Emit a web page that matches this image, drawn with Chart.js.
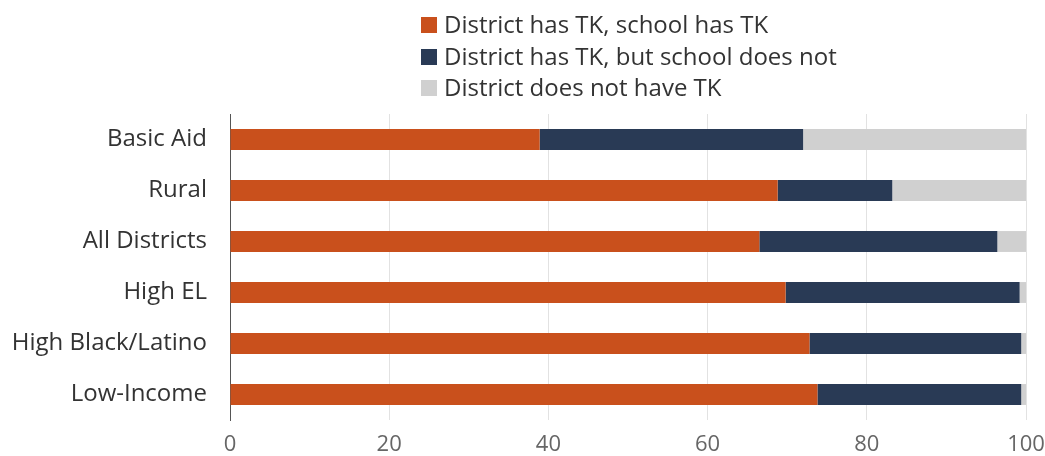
<!DOCTYPE html>
<html>
<head>
<meta charset="utf-8">
<script src="https://cdn.jsdelivr.net/npm/chart.js@4"></script>
<style>
  html, body { margin: 0; padding: 0; background: #fff; }
  #wrap { position: relative; width: 1045px; height: 456px; }
  #legend { position: absolute; left: 421px; top: 8px; font-family: "Open Sans", sans-serif; font-size: 24px; color: #333; }
  #legend div { height: 31.5px; line-height: 31.5px; white-space: nowrap; }
  #legend span { display: inline-block; width: 16px; height: 16px; margin-right: 7px; vertical-align: 0px; }
</style>
</head>
<body>
<div id="wrap">
  <canvas id="chart1" width="1045" height="456"></canvas>
  <div id="legend"></div>
</div>
<script>
const categories = ["Basic Aid", "Rural", "All Districts", "High EL", "High Black/Latino", "Low-Income"];
const seriesNames = ["District has TK, school has TK", "District has TK, but school does not", "District does not have TK"];
const schoolHasTK = [38.9, 68.8, 66.5, 69.8, 72.8, 73.8];
const schoolNoTK = [33.1, 14.4, 29.9, 29.4, 26.6, 25.6];
const districtNoTK = [28.0, 16.8, 3.6, 0.8, 0.6, 0.6];
const xTicks = [0, 20, 40, 60, 80, 100];
const colors = ["#c9501c", "#293a55", "#d0d0d0"];

const ctx = document.getElementById("chart1");
const myChart = new Chart(ctx, {
  type: "bar",
  data: {
    labels: categories,
    datasets: [schoolHasTK, schoolNoTK, districtNoTK].map((d, i) => ({
      label: seriesNames[i],
      data: d,
      backgroundColor: colors[i],
      barPercentage: 0.82,
      categoryPercentage: 0.5,
    })),
  },
  options: {
    indexAxis: "y",
    responsive: false,
    animation: false,
    layout: { padding: { top: 114, right: 19, left: 0, bottom: 0 } },
    plugins: {
      legend: { display: false },
      tooltip: { enabled: false },
    },
    scales: {
      x: {
        stacked: true,
        min: 0,
        max: 100,
        afterBuildTicks: (scale) => { scale.ticks = xTicks.map((v) => ({ value: v })); },
        afterFit: (scale) => {
          scale.height = 36;
          scale.paddingLeft = 0;
          scale.paddingRight = 0;
        },
        grid: { color: "#e2e2e2", lineWidth: 1, drawTicks: false },
        border: { display: false },
        ticks: { padding: 12, color: "#666", font: { family: "Open Sans", size: 22 } },
      },
      y: {
        stacked: true,
        afterFit: (scale) => { scale.width = 230; },
        grid: { display: false },
        border: { display: true, color: "#555", width: 1 },
        ticks: { padding: 15, color: "#333", font: { family: "Open Sans", size: 24 } },
      },
    },
  },
});

const legend = document.getElementById("legend");
seriesNames.forEach((name, i) => {
  const row = document.createElement("div");
  const box = document.createElement("span");
  box.style.background = colors[i];
  row.appendChild(box);
  row.appendChild(document.createTextNode(name));
  legend.appendChild(row);
});
</script>
</body>
</html>
